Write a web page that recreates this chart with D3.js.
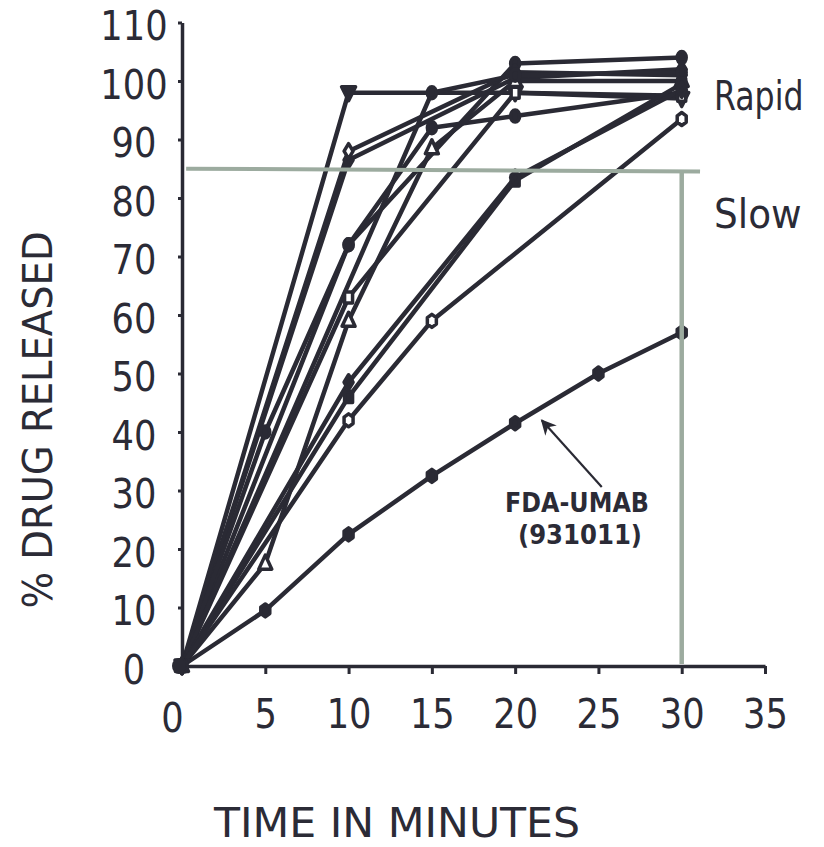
<!DOCTYPE html>
<html>
<head>
<meta charset="utf-8">
<script src="https://cdn.jsdelivr.net/npm/d3@7"></script>
<style>
  body { margin: 0; background: #fff; }
  text { font-family: "DejaVu Sans", Verdana, sans-serif; fill: #2b2b36; }
</style>
</head>
<body>
<svg id="chart" width="824" height="847"></svg>
<script>
// Dissolution profiles: % drug released against time (minutes)
const xTicks = [0, 5, 10, 15, 20, 25, 30, 35];
const yTicks = [0, 10, 20, 30, 40, 50, 60, 70, 80, 90, 100, 110];

const fdaUmab   = [[0, 0], [5, 9.5], [10, 22.5], [15, 32.5], [20, 41.5], [25, 50], [30, 57]];
const lotHex    = [[0, 0], [10, 42], [15, 59], [30, 93.5]];
const lotDiam   = [[0, 0], [10, 48.5], [20, 83.5], [30, 98.5]];
const lotSqr    = [[0, 0], [10, 46], [20, 83], [30, 99.5]];
const lotCirc   = [[0, 0], [15, 98], [20, 101], [30, 101.5]];
const lotTri    = [[0, 0], [5, 17.5], [10, 59], [15, 88.5], [20, 100], [30, 100]];
const lotBox    = [[0, 0], [10, 63], [20, 98], [30, 97.5]];
const lotDot    = [[0, 0], [5, 40], [10, 72], [15, 92], [20, 94], [30, 98]];
const lotTriDn  = [[0, 0], [10, 98], [20, 98], [30, 97]];
const lotOpenDm = [[0, 0], [10, 88], [20, 101.5], [30, 101]];
const lotFast   = [[0, 0], [10, 86.5], [20, 100.5], [30, 102]];
const lotTop    = [[0, 0], [10, 72], [20, 103], [30, 104]];

const series = [lotTop, lotFast, lotOpenDm, lotTriDn, lotDot, lotBox, lotTri, lotCirc, lotSqr, lotDiam, lotHex, fdaUmab];
const markerKinds = ["circleFill", "diamondFill", "diamond", "triDown", "circleFill", "square", "triUp", "circleFill", "squareFill", "diamondFill", "hex", "hexFill"];

const rapidLimit = 85;      // % released that separates rapid from slow
const specTime = 30;        // minutes

const ink = "#2a2a34";
const guide = "#9cab9f";

const svg = d3.select("#chart");
const x = d3.scaleLinear().domain([0, 35]).range([182, 765]);
const y = d3.scaleLinear().domain([0, 110]).range([666, 22.5]);

// axes
const xAxis = svg.append("g")
  .attr("transform", `translate(0,${y(0)})`)
  .call(d3.axisBottom(x).tickValues(xTicks).tickSize(8).tickSizeOuter(0).tickPadding(0));
const yAxis = svg.append("g")
  .attr("transform", `translate(${x(0)},0)`)
  .call(d3.axisLeft(y).tickValues(yTicks).tickSize(4).tickSizeOuter(0).tickPadding(0));

[xAxis, yAxis].forEach(g => {
  g.select(".domain").attr("stroke", ink).attr("stroke-width", 3.5);
  g.selectAll(".tick line").attr("stroke", ink).attr("stroke-width", 3);
  g.selectAll(".tick text").attr("fill", ink).style("font-size", "41px")
    .style("font-family", '"DejaVu Sans", Verdana, sans-serif');
});
xAxis.selectAll(".tick text")
  .attr("text-anchor", "middle").attr("y", 0).attr("dy", 0)
  .attr("transform", d => `translate(${d === 0 ? -10 : 0},${d === 0 ? 66 : 62}) scale(0.86,1)`);
yAxis.selectAll(".tick text")
  .attr("text-anchor", "middle").attr("x", 0).attr("dy", 0)
  .attr("transform", "translate(-48,17) scale(0.86,1)");

// series lines
const line = d3.line().x(d => x(d[0])).y(d => y(d[1]));
svg.append("g").selectAll("path").data(series).join("path")
  .attr("d", line).attr("fill", "none").attr("stroke", ink)
  .attr("stroke-width", 4.5).attr("stroke-linejoin", "round");

// marker shapes
const hexPath = "M0,-6.5L4.5,-3.2L4.5,3.2L0,6.5L-4.5,3.2L-4.5,-3.2Z";
const diamondPath = "M0,-7.5L4.5,0L0,7.5L-4.5,0Z";
const squarePath = "M-4,-5.5H4V5.5H-4Z";
const circlePath = "M0,-6A4.5,6 0 1,1 0,6A4.5,6 0 1,1 0,-6Z";
const shapes = {
  hex: hexPath, hexFill: hexPath,
  diamond: diamondPath, diamondFill: diamondPath,
  square: squarePath, squareFill: squarePath,
  circleFill: circlePath,
  triUp: "M0,-8.5L6.5,5.5L-6.5,5.5Z",
  triDown: "M-7,-6L7,-6L0,8Z"
};
const mk = svg.append("g");
series.forEach((s, i) => {
  const kind = markerKinds[i];
  const filled = kind.endsWith("Fill") || kind === "triDown";
  mk.selectAll(null).data(s).join("path")
    .attr("transform", d => `translate(${x(d[0])},${y(d[1])})`)
    .attr("d", shapes[kind])
    .attr("fill", filled ? ink : "#fff")
    .attr("stroke", ink).attr("stroke-width", 3.5)
    .attr("stroke-linejoin", "round");
});
// origin blob where all profiles start
svg.append("ellipse").attr("cx", x(0) - 3).attr("cy", y(0)).attr("rx", 7).attr("ry", 8).attr("fill", ink);

// 85 % limit and 30-minute guide lines
svg.append("line")
  .attr("x1", x(0.25)).attr("y1", y(rapidLimit))
  .attr("x2", x(31.1)).attr("y2", y(rapidLimit - 0.45))
  .attr("stroke", guide).attr("stroke-width", 4);
svg.append("line")
  .attr("x1", x(specTime)).attr("y1", y(rapidLimit - 0.4))
  .attr("x2", x(specTime)).attr("y2", y(0) - 2)
  .attr("stroke", guide).attr("stroke-width", 4.5);

// region labels
svg.append("text").attr("transform", "translate(714,110) scale(0.79,1)")
  .style("font-size", "40px").text("Rapid");
svg.append("text").attr("transform", "translate(714,228) scale(0.935,1)")
  .style("font-size", "40px").text("Slow");

// axis titles
svg.append("text").attr("transform", "translate(397,837) scale(1.065,1)").attr("text-anchor", "middle")
  .style("font-size", "40px").text("TIME IN MINUTES");
svg.append("text").attr("transform", "translate(52,420) rotate(-90) scale(0.94,1)").attr("text-anchor", "middle")
  .style("font-size", "41px").text("% DRUG RELEASED");

// annotation for the reference product
const arrowTip = [21.6, 42], arrowTail = [25.2, 30.6];
svg.append("defs").append("marker").attr("id", "head")
  .attr("viewBox", "0 0 10 10").attr("refX", 9).attr("refY", 5)
  .attr("markerWidth", 7).attr("markerHeight", 7).attr("orient", "auto")
  .append("path").attr("d", "M0,0L10,5L0,10L3,5Z").attr("fill", ink);
svg.append("line")
  .attr("x1", x(arrowTail[0])).attr("y1", y(arrowTail[1]))
  .attr("x2", x(arrowTip[0])).attr("y2", y(arrowTip[1]))
  .attr("stroke", ink).attr("stroke-width", 2.2).attr("marker-end", "url(#head)");
svg.append("text").attr("x", 577).attr("y", 512).attr("text-anchor", "middle")
  .attr("textLength", 144).attr("lengthAdjust", "spacingAndGlyphs")
  .style("font-size", "27px").style("font-weight", "bold").text("FDA-UMAB");
svg.append("text").attr("x", 580).attr("y", 544).attr("text-anchor", "middle")
  .attr("textLength", 124).attr("lengthAdjust", "spacingAndGlyphs")
  .style("font-size", "27px").style("font-weight", "bold").text("(931011)");
</script>
</body>
</html>
